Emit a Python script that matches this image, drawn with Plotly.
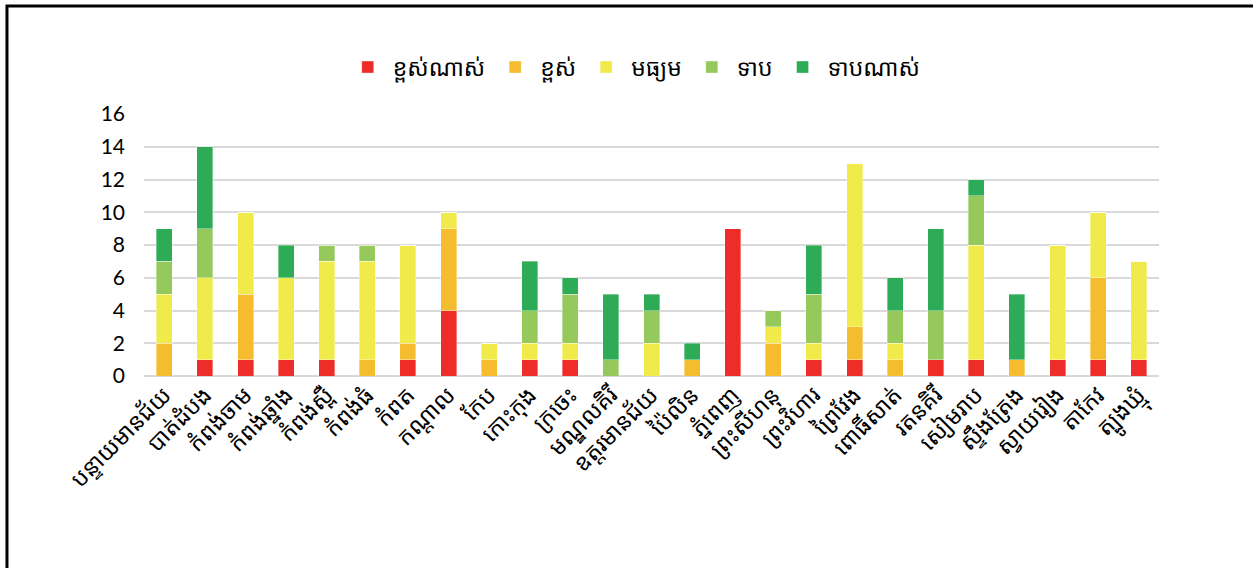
import plotly.graph_objects as go

provinces = ["បន្ទាយមានជ័យ", "បាត់ដំបង", "កំពង់ចាម", "កំពង់ឆ្នាំង", "កំពង់ស្ពឺ",
             "កំពង់ធំ", "កំពត", "កណ្ដាល", "កែប", "កោះកុង", "ក្រចេះ", "មណ្ឌលគិរី",
             "ឧត្ដរមានជ័យ", "ប៉ៃលិន", "ភ្នំពេញ", "ព្រះសីហនុ", "ព្រះវិហារ", "ព្រៃវែង",
             "ពោធិ៍សាត់", "រតនគិរី", "សៀមរាប", "ស្ទឹងត្រែង", "ស្វាយរៀង", "តាកែវ", "ត្បូងឃ្មុំ"]

very_high = [0, 1, 1, 1, 1, 0, 1, 4, 0, 1, 1, 0, 0, 0, 9, 0, 1, 1, 0, 1, 1, 0, 1, 1, 1]
high      = [2, 0, 4, 0, 0, 1, 1, 5, 1, 0, 0, 0, 0, 1, 0, 2, 0, 2, 1, 0, 0, 1, 0, 5, 0]
medium    = [3, 5, 5, 5, 6, 6, 6, 1, 1, 1, 1, 0, 2, 0, 0, 1, 1, 10, 1, 0, 7, 0, 7, 4, 6]
low       = [2, 3, 0, 0, 1, 1, 0, 0, 0, 2, 3, 1, 2, 0, 0, 1, 3, 0, 2, 3, 3, 0, 0, 0, 0]
very_low  = [2, 5, 0, 2, 0, 0, 0, 0, 0, 3, 1, 4, 1, 1, 0, 0, 3, 0, 2, 5, 1, 4, 0, 0, 0]

series = [
    ("ខ្ពស់ណាស់", very_high, "#EE2D29"),
    ("ខ្ពស់", high, "#F5BC2F"),
    ("មធ្យម", medium, "#F0EB4B"),
    ("ទាប", low, "#95C95B"),
    ("ទាបណាស់", very_low, "#2EAB57"),
]

fig = go.Figure()
for name, vals, color in series:
    fig.add_trace(go.Bar(x=provinces, y=vals, name=name, marker_color=color,
                         marker_line_width=0.6, marker_line_color="rgba(255,255,255,0.6)"))

fig.update_layout(
    barmode="stack",
    bargap=0.606,
    width=1253, height=568,
    margin=dict(l=144, r=94, t=114, b=192),
    paper_bgcolor="white", plot_bgcolor="white",
    font=dict(family="Noto Sans Khmer, Khmer OS, DejaVu Sans, sans-serif", color="#000000"),
    legend=dict(orientation="h", x=0.483, xanchor="center", y=1.179, yanchor="middle",
                font=dict(size=23), itemwidth=40, traceorder="normal"),
    showlegend=True,
)
fig.update_yaxes(range=[0, 16], dtick=2, showgrid=True, gridcolor="#D9D9D9", gridwidth=2,
                 zeroline=True, zerolinecolor="#D9D9D9", zerolinewidth=2,
                 tickfont=dict(size=21, family="Lato, Liberation Sans, Arial"), ticks="",
                 ticklabelstandoff=18)
fig.update_xaxes(tickangle=-45, tickfont=dict(size=23), showline=False, ticks="")

fig.add_shape(type="rect", xref="paper", yref="paper", x0=-0.135, x1=1.3, y0=-1.0, y1=1.412,
              line=dict(color="black", width=3), fillcolor="rgba(0,0,0,0)", layer="above")

fig.write_html("out.html", config={"displayModeBar": False},
               post_script="document.body.style.margin='0';")
